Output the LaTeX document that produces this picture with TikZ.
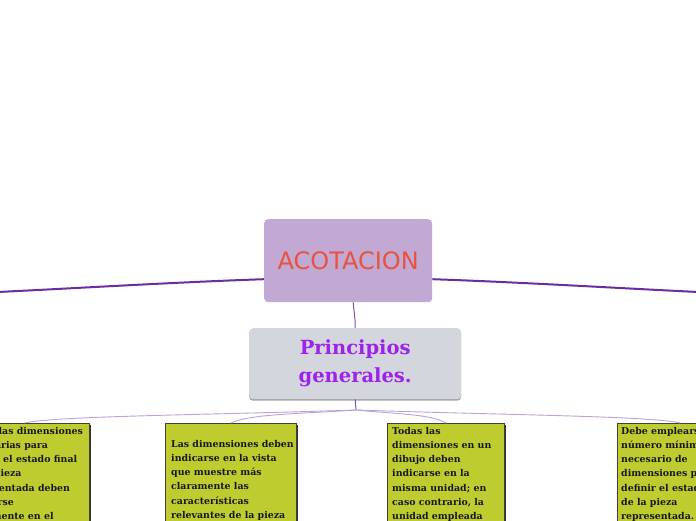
\documentclass[tikz,border=0pt]{standalone}
\usepackage{fontspec}
\usetikzlibrary{shadows,calc}
\newfontfamily\acotfont{DejaVu Sans}
\newfontfamily\slabfont{DejaVu Serif}
\definecolor{acotfill}{RGB}{194,169,211}
\definecolor{acottext}{RGB}{232,83,63}
\definecolor{princfill}{RGB}{212,214,221}
\definecolor{princtext}{RGB}{156,34,236}
\definecolor{gfill}{RGB}{190,204,48}
\definecolor{bigline}{RGB}{106,44,158}
\definecolor{midline}{RGB}{128,80,176}
\definecolor{branchline}{RGB}{190,160,220}
\tikzset{
  acotbox/.style={draw=none, fill=acotfill, rounded corners=4pt, anchor=north west,
    font=\acotfont\fontsize{24}{28}\selectfont, text=acottext},
  princbox/.style={draw=none, fill=princfill, rounded corners=4pt, anchor=north west,
    drop shadow={shadow xshift=0pt, shadow yshift=-1.5pt, fill=black!45, opacity=0.8},
    font=\slabfont\bfseries\fontsize{19.5}{28}\selectfont, text=princtext, align=center},
  gbox/.style={draw=black!75, line width=0.6pt, fill=gfill, anchor=north west,
    drop shadow={shadow xshift=1.5pt, shadow yshift=-1.5pt, fill=black!80, opacity=1}},
  gtext/.style={anchor=north west, inner sep=0pt, align=left, text=black!90,
    font=\slabfont\bfseries\fontsize{9.4}{14.2}\selectfont},
  bigconn/.style={draw=bigline, line width=2pt},
  midconn/.style={draw=midline, line width=1pt},
  branch/.style={draw=branchline, line width=0.9pt}
}
\begin{document}
\begin{tikzpicture}[x=1pt,y=-1pt]
\useasboundingbox (0,0) rectangle (696,520);
\clip (0,0) rectangle (696,520);
\fill[white] (0,0) rectangle (696,520);
% main nodes
\node[acotbox, minimum width=168pt, minimum height=83pt] (acot) at (264,219) {ACOTACION};
\node[princbox, minimum width=212pt, minimum height=71pt] (princ) at (249,328) {Principios\\generales.};
% off-picture ends
\coordinate (L) at (-2,292);
\coordinate (R) at (698,292);
\coordinate (hub) at (356,410);
% green boxes
\node[gbox, minimum width=130pt, minimum height=110pt] (b1) at (-41,423) {};
\node[gbox, minimum width=131pt, minimum height=110pt] (b2) at (165,423) {};
\node[gbox, minimum width=117pt, minimum height=110pt] (b3) at (387,423) {};
\node[gbox, minimum width=126pt, minimum height=110pt] (b4) at (617,423) {};
\node[gtext] (t1) at (-35,427) {Todas las dimensiones\\necesarias para\\definir el estado final\\de la pieza\\representada deben\\indicarse\\claramente en el};
\node[gtext] (t2) at (171,440) {Las dimensiones deben\\indicarse en la vista\\que muestre más\\claramente las\\características\\relevantes de la pieza};
\node[gtext] (t3) at (392,427) {Todas las\\dimensiones en un\\dibujo deben\\indicarse en la\\misma unidad; en\\caso contrario, la\\unidad empleada};
\node[gtext] (t4) at (621,427) {Debe emplearse el\\número mínimo\\necesario de\\dimensiones para\\definir el estado final\\de la pieza\\representada.};
% connectors
\draw[bigconn] ([yshift=-18.5pt]acot.west) .. controls (180,282) and (80,288) .. (L);
\draw[bigconn] ([yshift=-18.5pt]acot.east) .. controls (516,282) and (616,288) .. (R);
\draw[midconn] ([xshift=5pt]acot.south) .. controls ($(acot.south)+(6,12)$) and ($(princ.north)+(0,-12)$) .. (princ.north);
\draw[midconn] (princ.south) -- (hub);
\draw[branch] (hub) .. controls ($(hub)+(-150,5)$) and ($(b1.north)+(30,-7)$) .. (b1.north);
\draw[branch] (hub) .. controls ($(hub)+(-60,4)$) and ($(b2.north)+(20,-9)$) .. (b2.north);
\draw[branch] (hub) .. controls ($(hub)+(40,4)$) and ($(b3.north)+(-15,-9)$) .. (b3.north);
\draw[branch] (hub) .. controls ($(hub)+(150,5)$) and ($(b4.north)+(-30,-7)$) .. (b4.north);
\end{tikzpicture}
\end{document}
